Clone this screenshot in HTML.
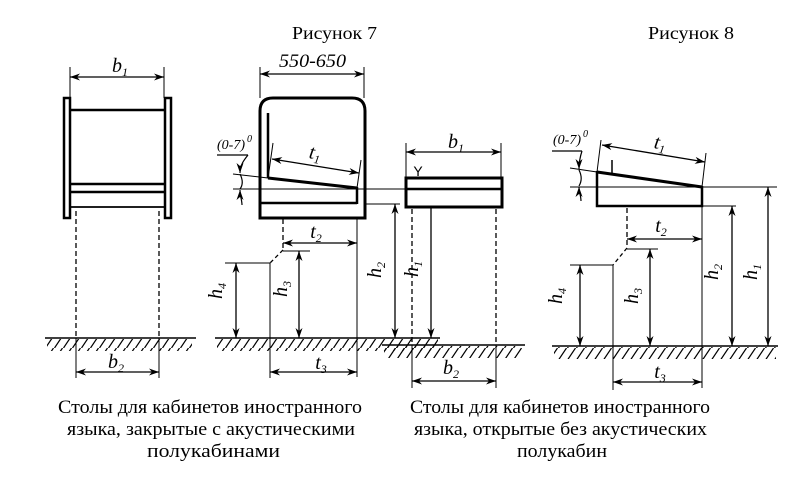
<!DOCTYPE html>
<html><head><meta charset="utf-8"><style>
html,body{margin:0;padding:0;background:#fff;}
svg{display:block;}
text{font-family:"Liberation Serif","Times New Roman","DejaVu Serif",serif;fill:#000;}
.it{font-style:italic;}
</style></head><body>
<svg width="799" height="479" viewBox="0 0 799 479" xmlns="http://www.w3.org/2000/svg">
<defs>
<marker id="a" viewBox="0 0 10 8" refX="10" refY="4" markerWidth="10" markerHeight="8" markerUnits="userSpaceOnUse" orient="auto-start-reverse">
<path d="M0,0.5 L10,4 L0,7.5 L3,4 Z" fill="#000"/>
</marker>
<pattern id="h" x="0" y="0" width="9" height="12" patternUnits="userSpaceOnUse">
<line x1="8.5" y1="0" x2="0.5" y2="12" stroke="#000" stroke-width="1.2"/>
</pattern>
</defs>
<g stroke="#000" fill="none" stroke-width="1">
<!-- ===== Fig 1 ===== -->
<rect x="64" y="98" width="6" height="120" stroke-width="2.5" fill="#fff"/>
<rect x="165" y="98" width="6" height="120" stroke-width="2.5" fill="#fff"/>
<line x1="70" y1="110" x2="165" y2="110" stroke-width="2.5"/>
<line x1="70" y1="184" x2="165" y2="184" stroke-width="2.5"/>
<line x1="70" y1="192" x2="165" y2="192" stroke-width="2.5"/>
<line x1="70" y1="207" x2="165" y2="207" stroke-width="1.8"/>
<line x1="70" y1="67" x2="70" y2="98"/>
<line x1="164" y1="67" x2="164" y2="98"/>
<line x1="70" y1="77" x2="164" y2="77" stroke-width="1.3" marker-start="url(#a)" marker-end="url(#a)"/>
<line x1="76" y1="211" x2="76" y2="338" stroke-dasharray="5,3" stroke-width="1.3"/>
<line x1="159" y1="211" x2="159" y2="338" stroke-dasharray="5,3" stroke-width="1.3"/>
<line x1="76" y1="338" x2="76" y2="378"/>
<line x1="159" y1="338" x2="159" y2="378"/>
<line x1="76" y1="372" x2="159" y2="372" stroke-width="1.3" marker-start="url(#a)" marker-end="url(#a)"/>
<line x1="45" y1="338" x2="196" y2="338" stroke-width="1.6"/>
<rect x="47" y="339" width="145" height="12" fill="url(#h)" stroke="none"/>

<!-- ===== Fig 2 ===== -->
<path d="M260,218 V111 Q260,98 273,98 H352 Q365,98 365,111 V218 Z" stroke-width="3"/>
<line x1="268" y1="113" x2="268" y2="178" stroke-width="2.5"/>
<line x1="268" y1="178" x2="357" y2="188" stroke-width="3"/>
<line x1="357" y1="187" x2="357" y2="204" stroke-width="2.5"/>
<line x1="260" y1="203" x2="357" y2="203" stroke-width="2.5"/>
<line x1="233" y1="174" x2="268" y2="178"/>
<line x1="233" y1="189" x2="406" y2="189"/>
<line x1="365" y1="204" x2="400" y2="204"/>
<line x1="260" y1="67" x2="260" y2="98"/>
<line x1="364" y1="67" x2="364" y2="98"/>
<line x1="260" y1="74" x2="364" y2="74" stroke-width="1.3" marker-start="url(#a)" marker-end="url(#a)"/>
<line x1="268" y1="178" x2="273" y2="143"/>
<line x1="357" y1="188" x2="361" y2="160"/>
<line x1="272" y1="159" x2="359" y2="173" stroke-width="1.3" marker-start="url(#a)" marker-end="url(#a)"/>
<line x1="217" y1="155" x2="248" y2="155" stroke-width="1.2"/>
<path d="M248,155 C244,160 240,165 240,173" stroke-width="1.2" marker-end="url(#a)"/>
<path d="M240,174 C243,180 243,185 240,189" stroke-width="1.2"/>
<path d="M242,205 C242,200 240,196 240,190" stroke-width="1.2" marker-end="url(#a)"/>
<line x1="283" y1="219" x2="283" y2="250" stroke-dasharray="5,3" stroke-width="1.3"/>
<line x1="283" y1="250" x2="270" y2="263" stroke-dasharray="4,3" stroke-width="1.3"/>
<line x1="270" y1="263" x2="270" y2="378"/>
<line x1="225" y1="263" x2="270" y2="263"/>
<line x1="283" y1="251" x2="310" y2="251"/>
<line x1="357" y1="218" x2="357" y2="377"/>
<line x1="283" y1="243" x2="357" y2="243" stroke-width="1.3" marker-start="url(#a)" marker-end="url(#a)"/>
<line x1="270" y1="372" x2="357" y2="372" stroke-width="1.3" marker-start="url(#a)" marker-end="url(#a)"/>
<line x1="236" y1="263" x2="236" y2="338" stroke-width="1.3" marker-start="url(#a)" marker-end="url(#a)"/>
<line x1="299" y1="251" x2="299" y2="338" stroke-width="1.3" marker-start="url(#a)" marker-end="url(#a)"/>
<line x1="395" y1="204" x2="395" y2="338" stroke-width="1.3" marker-start="url(#a)" marker-end="url(#a)"/>
<line x1="431" y1="189" x2="431" y2="338" stroke-width="1.3" marker-start="url(#a)" marker-end="url(#a)"/>
<line x1="215" y1="338" x2="440" y2="338" stroke-width="1.6"/>
<rect x="217" y="339" width="221" height="12" fill="url(#h)" stroke="none"/>

<!-- ===== Fig 3 ===== -->
<line x1="406" y1="143" x2="406" y2="178"/>
<line x1="501" y1="143" x2="501" y2="178"/>
<line x1="406" y1="152" x2="501" y2="152" stroke-width="1.3" marker-start="url(#a)" marker-end="url(#a)"/>
<rect x="406" y="178" width="96" height="29" stroke-width="3" fill="#fff"/>
<line x1="406" y1="189" x2="502" y2="189" stroke-width="2.5"/>
<line x1="412" y1="209" x2="412" y2="345" stroke-dasharray="5,3" stroke-width="1.3"/>
<line x1="496" y1="209" x2="496" y2="345" stroke-dasharray="5,3" stroke-width="1.3"/>
<line x1="412" y1="345" x2="412" y2="388"/>
<line x1="496" y1="345" x2="496" y2="388"/>
<line x1="412" y1="381" x2="496" y2="381" stroke-width="1.3" marker-start="url(#a)" marker-end="url(#a)"/>
<line x1="382" y1="345" x2="525" y2="345" stroke-width="1.6"/>
<rect x="384" y="346" width="138" height="12" fill="url(#h)" stroke="none"/>

<!-- ===== Fig 4 ===== -->
<line x1="597" y1="172" x2="702" y2="187" stroke-width="3"/>
<polyline points="597,171 597,206 702,206 702,186" stroke-width="2.5"/>
<line x1="612" y1="160" x2="612" y2="173" stroke-width="1.5"/>
<line x1="570" y1="168" x2="597" y2="172"/>
<line x1="570" y1="187" x2="777" y2="187"/>
<line x1="702" y1="206" x2="736" y2="206"/>
<line x1="597" y1="172" x2="601" y2="140"/>
<line x1="702" y1="187" x2="706" y2="153"/>
<line x1="602" y1="145" x2="705" y2="162" stroke-width="1.3" marker-start="url(#a)" marker-end="url(#a)"/>
<line x1="552" y1="151" x2="582" y2="151" stroke-width="1.2"/>
<path d="M582,151 C580,157 579,162 579,169" stroke-width="1.2" marker-end="url(#a)"/>
<path d="M579,170 C582,176 582,181 579,186" stroke-width="1.2"/>
<path d="M581,201 C581,196 579,192 579,187" stroke-width="1.2" marker-end="url(#a)"/>
<line x1="627" y1="208" x2="627" y2="248" stroke-dasharray="5,3" stroke-width="1.3"/>
<line x1="627" y1="248" x2="613" y2="265" stroke-dasharray="4,3" stroke-width="1.3"/>
<line x1="613" y1="265" x2="613" y2="390"/>
<line x1="570" y1="265" x2="613" y2="265"/>
<line x1="627" y1="249" x2="658" y2="249"/>
<line x1="702" y1="206" x2="702" y2="388"/>
<line x1="627" y1="239" x2="702" y2="239" stroke-width="1.3" marker-start="url(#a)" marker-end="url(#a)"/>
<line x1="613" y1="382" x2="702" y2="382" stroke-width="1.3" marker-start="url(#a)" marker-end="url(#a)"/>
<line x1="580" y1="265" x2="580" y2="346" stroke-width="1.3" marker-start="url(#a)" marker-end="url(#a)"/>
<line x1="650" y1="249" x2="650" y2="346" stroke-width="1.3" marker-start="url(#a)" marker-end="url(#a)"/>
<line x1="732" y1="206" x2="732" y2="346" stroke-width="1.3" marker-start="url(#a)" marker-end="url(#a)"/>
<line x1="768" y1="187" x2="768" y2="346" stroke-width="1.3" marker-start="url(#a)" marker-end="url(#a)"/>
<line x1="552" y1="346" x2="778" y2="346" stroke-width="1.6"/>
<rect x="554" y="347" width="222" height="12" fill="url(#h)" stroke="none"/>
</g>

<!-- ===== Texts ===== -->
<text x="292" y="39" font-size="18" textLength="85" lengthAdjust="spacingAndGlyphs">Рисунок 7</text>
<text x="648" y="39" font-size="18" textLength="86" lengthAdjust="spacingAndGlyphs">Рисунок 8</text>
<text x="279" y="67" font-size="19" class="it" textLength="67" lengthAdjust="spacingAndGlyphs">550-650</text>

<g font-size="20" class="it">
<text x="120" y="72" text-anchor="middle">b<tspan font-size="12" dy="4">1</tspan></text>
<text x="116" y="368" text-anchor="middle">b<tspan font-size="12" dy="4">2</tspan></text>
<text x="456" y="148" text-anchor="middle">b<tspan font-size="12" dy="4">1</tspan></text>
<text x="451" y="374" text-anchor="middle">b<tspan font-size="12" dy="4">2</tspan></text>

<text x="315" y="159" text-anchor="middle" transform="rotate(9 315 153)">t<tspan font-size="12" dy="4">1</tspan></text>
<text x="316" y="238" text-anchor="middle">t<tspan font-size="12" dy="4">2</tspan></text>
<text x="321" y="369" text-anchor="middle">t<tspan font-size="12" dy="4">3</tspan></text>
<text x="660" y="149" text-anchor="middle" transform="rotate(9 660 143)">t<tspan font-size="12" dy="4">1</tspan></text>
<text x="661" y="232" text-anchor="middle">t<tspan font-size="12" dy="4">2</tspan></text>
<text x="660" y="378" text-anchor="middle">t<tspan font-size="12" dy="4">3</tspan></text>
</g>

<text x="217" y="149" font-size="14" class="it">(0-7)</text>
<text x="247" y="142" font-size="10" class="it">0</text>
<text x="553" y="144" font-size="14" class="it">(0-7)</text>
<text x="583" y="137" font-size="10" class="it">0</text>

<text x="418" y="176" font-size="14" text-anchor="middle" style="font-family:'Liberation Sans',sans-serif">Y</text>

<g font-size="20" class="it">
<text x="228" y="297" text-anchor="middle" transform="rotate(-90 222 297)">h<tspan font-size="12" dy="4">4</tspan></text>
<text x="293" y="295" text-anchor="middle" transform="rotate(-90 287 295)">h<tspan font-size="12" dy="4">3</tspan></text>
<text x="387" y="276" text-anchor="middle" transform="rotate(-90 381 276)">h<tspan font-size="12" dy="4">2</tspan></text>
<text x="424" y="275" text-anchor="middle" transform="rotate(-90 418 275)">h<tspan font-size="12" dy="4">1</tspan></text>
<text x="568" y="302" text-anchor="middle" transform="rotate(-90 562 302)">h<tspan font-size="12" dy="4">4</tspan></text>
<text x="644" y="302" text-anchor="middle" transform="rotate(-90 638 302)">h<tspan font-size="12" dy="4">3</tspan></text>
<text x="724" y="278" text-anchor="middle" transform="rotate(-90 718 278)">h<tspan font-size="12" dy="4">2</tspan></text>
<text x="763" y="278" text-anchor="middle" transform="rotate(-90 757 278)">h<tspan font-size="12" dy="4">1</tspan></text>
</g>

<g font-size="19">
<text x="58" y="413" textLength="304" lengthAdjust="spacingAndGlyphs">Столы для кабинетов иностранного</text>
<text x="67" y="435" textLength="288" lengthAdjust="spacingAndGlyphs">языка, закрытые с акустическими</text>
<text x="147" y="457" textLength="133" lengthAdjust="spacingAndGlyphs">полукабинами</text>
<text x="410" y="413" textLength="300" lengthAdjust="spacingAndGlyphs">Столы для кабинетов иностранного</text>
<text x="414" y="435" textLength="293" lengthAdjust="spacingAndGlyphs">языка, открытые без акустических</text>
<text x="517" y="457" textLength="90" lengthAdjust="spacingAndGlyphs">полукабин</text>
</g>
</svg>
</body></html>
